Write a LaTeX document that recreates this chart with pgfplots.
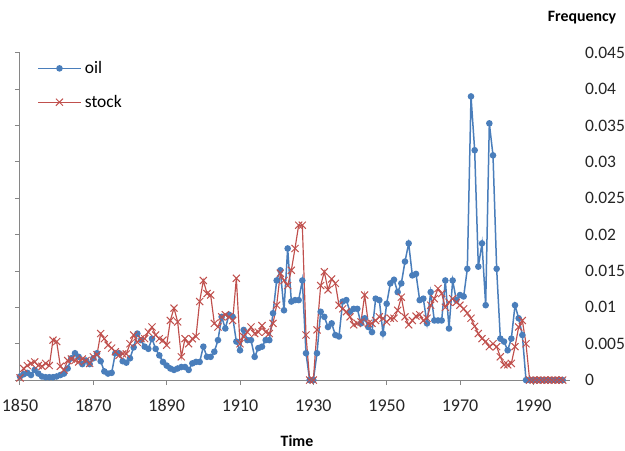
\documentclass[border=0pt]{standalone}
\usepackage{pgfplots}
\usepackage{pgfplotstable}
\pgfplotsset{compat=1.18}
\usepackage{fontspec}
\setmainfont{Carlito}
\definecolor{oilblue}{HTML}{4A7EBB}
\definecolor{stockred}{HTML}{C0504D}
\definecolor{axisgray}{HTML}{868686}
\pgfplotstableread{
year oil stock
1850 0.0005 0.0003
1851 0.0008 0.0016
1852 0.0010 0.0020
1853 0.0007 0.0023
1854 0.0014 0.0025
1855 0.0009 0.0020
1856 0.0005 0.0019
1857 0.0004 0.0023
1858 0.0004 0.0020
1859 0.0004 0.0055
1860 0.0005 0.0053
1861 0.0007 0.0019
1862 0.0009 0.0014
1863 0.0016 0.0027
1864 0.0030 0.0029
1865 0.0037 0.0027
1866 0.0032 0.0025
1867 0.0022 0.0029
1868 0.0027 0.0027
1869 0.0022 0.0023
1870 0.0030 0.0032
1871 0.0037 0.0035
1872 0.0026 0.0064
1873 0.0012 0.0057
1874 0.0009 0.0048
1875 0.0010 0.0044
1876 0.0037 0.0039
1877 0.0037 0.0034
1878 0.0026 0.0036
1879 0.0024 0.0036
1880 0.0030 0.0050
1881 0.0045 0.0062
1882 0.0064 0.0052
1883 0.0055 0.0057
1884 0.0046 0.0057
1885 0.0043 0.0066
1886 0.0057 0.0073
1887 0.0043 0.0062
1888 0.0034 0.0057
1889 0.0025 0.0055
1890 0.0020 0.0048
1891 0.0016 0.0082
1892 0.0014 0.0099
1893 0.0016 0.0080
1894 0.0018 0.0032
1895 0.0018 0.0057
1896 0.0014 0.0050
1897 0.0023 0.0057
1898 0.0025 0.0060
1899 0.0025 0.0108
1900 0.0046 0.0137
1901 0.0032 0.0119
1902 0.0032 0.0117
1903 0.0039 0.0078
1904 0.0055 0.0073
1905 0.0087 0.0087
1906 0.0071 0.0090
1907 0.0090 0.0087
1908 0.0087 0.0082
1909 0.0053 0.0140
1910 0.0041 0.0050
1911 0.0069 0.0060
1912 0.0055 0.0066
1913 0.0055 0.0073
1914 0.0032 0.0064
1915 0.0044 0.0066
1916 0.0046 0.0075
1917 0.0055 0.0066
1918 0.0055 0.0064
1919 0.0092 0.0078
1920 0.0137 0.0103
1921 0.0151 0.0147
1922 0.0096 0.0137
1923 0.0181 0.0130
1924 0.0108 0.0151
1925 0.0110 0.0181
1926 0.0110 0.0213
1927 0.0137 0.0213
1928 0.0037 0.0062
1929 0.0000 0.0000
1930 0.0000 0.0000
1931 0.0037 0.0069
1932 0.0094 0.0130
1933 0.0087 0.0149
1934 0.0073 0.0124
1935 0.0078 0.0139
1936 0.0062 0.0133
1937 0.0060 0.0103
1938 0.0108 0.0098
1939 0.0110 0.0094
1940 0.0094 0.0087
1941 0.0098 0.0076
1942 0.0098 0.0078
1943 0.0078 0.0080
1944 0.0085 0.0117
1945 0.0073 0.0078
1946 0.0066 0.0078
1947 0.0112 0.0082
1948 0.0110 0.0087
1949 0.0064 0.0085
1950 0.0105 0.0080
1951 0.0133 0.0085
1952 0.0138 0.0085
1953 0.0121 0.0096
1954 0.0133 0.0114
1955 0.0163 0.0087
1956 0.0188 0.0076
1957 0.0144 0.0082
1958 0.0146 0.0088
1959 0.0110 0.0090
1960 0.0112 0.0082
1961 0.0078 0.0085
1962 0.0121 0.0103
1963 0.0082 0.0112
1964 0.0082 0.0126
1965 0.0082 0.0119
1966 0.0137 0.0100
1967 0.0071 0.0107
1968 0.0137 0.0112
1969 0.0110 0.0107
1970 0.0117 0.0103
1971 0.0115 0.0098
1972 0.0153 0.0092
1973 0.0390 0.0085
1974 0.0316 0.0074
1975 0.0156 0.0064
1976 0.0188 0.0057
1977 0.0103 0.0053
1978 0.0353 0.0046
1979 0.0309 0.0050
1980 0.0153 0.0046
1981 0.0057 0.0032
1982 0.0053 0.0021
1983 0.0041 0.0021
1984 0.0057 0.0023
1985 0.0103 0.0046
1986 0.0085 0.0073
1987 0.0062 0.0082
1988 0.0000 0.0050
1989 0.0000 0.0000
1990 0.0000 0.0000
1991 0.0000 0.0000
1992 0.0000 0.0000
1993 0.0000 0.0000
1994 0.0000 0.0000
1995 0.0000 0.0000
1996 0.0000 0.0000
1997 0.0000 0.0000
1998 0.0000 0.0000
}\datatable
\begin{document}
\begin{tikzpicture}
\begin{axis}[
  scale only axis, width=330pt, height=196.4pt,
  xmin=1850, xmax=2000, ymin=0, ymax=0.045,
  axis x line*=bottom, axis y line*=left,
  scaled y ticks=false, scaled x ticks=false,
  xtick={1850,1870,1890,1910,1930,1950,1970,1990},
  ytick={0,0.005,0.01,0.015,0.02,0.025,0.03,0.035,0.04,0.045},
  yticklabels={},
  tick align=outside, major tick length=3pt,
  axis line style={draw=axisgray, line width=0.6pt},
  tick style={draw=axisgray, line width=0.6pt},
  /pgf/number format/assume math mode=true,
  /pgf/number format/1000 sep={},
  xticklabel style={font=\fontsize{10.8}{12}\selectfont, text=black!85, yshift=-5pt},
  xlabel={Time},
  xlabel style={font=\bfseries\fontsize{9.5}{11}\selectfont, at={(axis description cs:0.5036,-0.186)}, anchor=center},
  clip=false,
  legend style={at={(axis description cs:0.031,0.986)}, anchor=north west, draw=none, fill=none,
    font=\fontsize{10.5}{12}\selectfont, row sep=7.5pt, inner xsep=0pt, inner ysep=0pt},
  legend cell align=left,
  legend image code/.code={\draw[mark repeat=2,mark phase=2,#1] plot coordinates {(0cm,0cm) (0.45cm,0cm) (0.9cm,0cm)};},
]
\addplot[color=oilblue, line width=0.9pt, mark=*, mark size=1.5pt, mark options={fill=oilblue, draw=oilblue}] table[x=year, y=oil] {\datatable};
\addlegendentry{oil}
\addplot[color=stockred, line width=0.7pt, mark=x, mark size=3pt, mark options={draw=stockred, line width=0.6pt}] table[x=year, y=stock] {\datatable};
\addlegendentry{stock}
\coordinate (bl) at (axis description cs:-0.03636,-0.2139);
\coordinate (tr) at (axis description cs:1.1,1.1613);
\node[font=\bfseries\fontsize{9.5}{11}\selectfont, text=black] at (axis description cs:1.0218,1.109) {Frequency};
\end{axis}
\begin{axis}[
  scale only axis, width=330pt, height=196.4pt,
  xmin=1850, xmax=2000, ymin=0, ymax=0.045,
  axis x line=none, axis y line*=right,
  scaled y ticks=false,
  y axis line style={draw=none},
  ytick={0,0.005,0.01,0.015,0.02,0.025,0.03,0.035,0.04,0.045},
  yticklabels={0,0.005,0.01,0.015,0.02,0.025,0.03,0.035,0.04,0.045},
  major tick length=0pt, tick style={draw=none},
  yticklabel style={anchor=west, xshift=5.5pt, font=\fontsize{10.5}{12}\selectfont, text=black!85},
]
\end{axis}
\pgfresetboundingbox
\path[use as bounding box] (bl) rectangle (tr);
\end{tikzpicture}
\end{document}
